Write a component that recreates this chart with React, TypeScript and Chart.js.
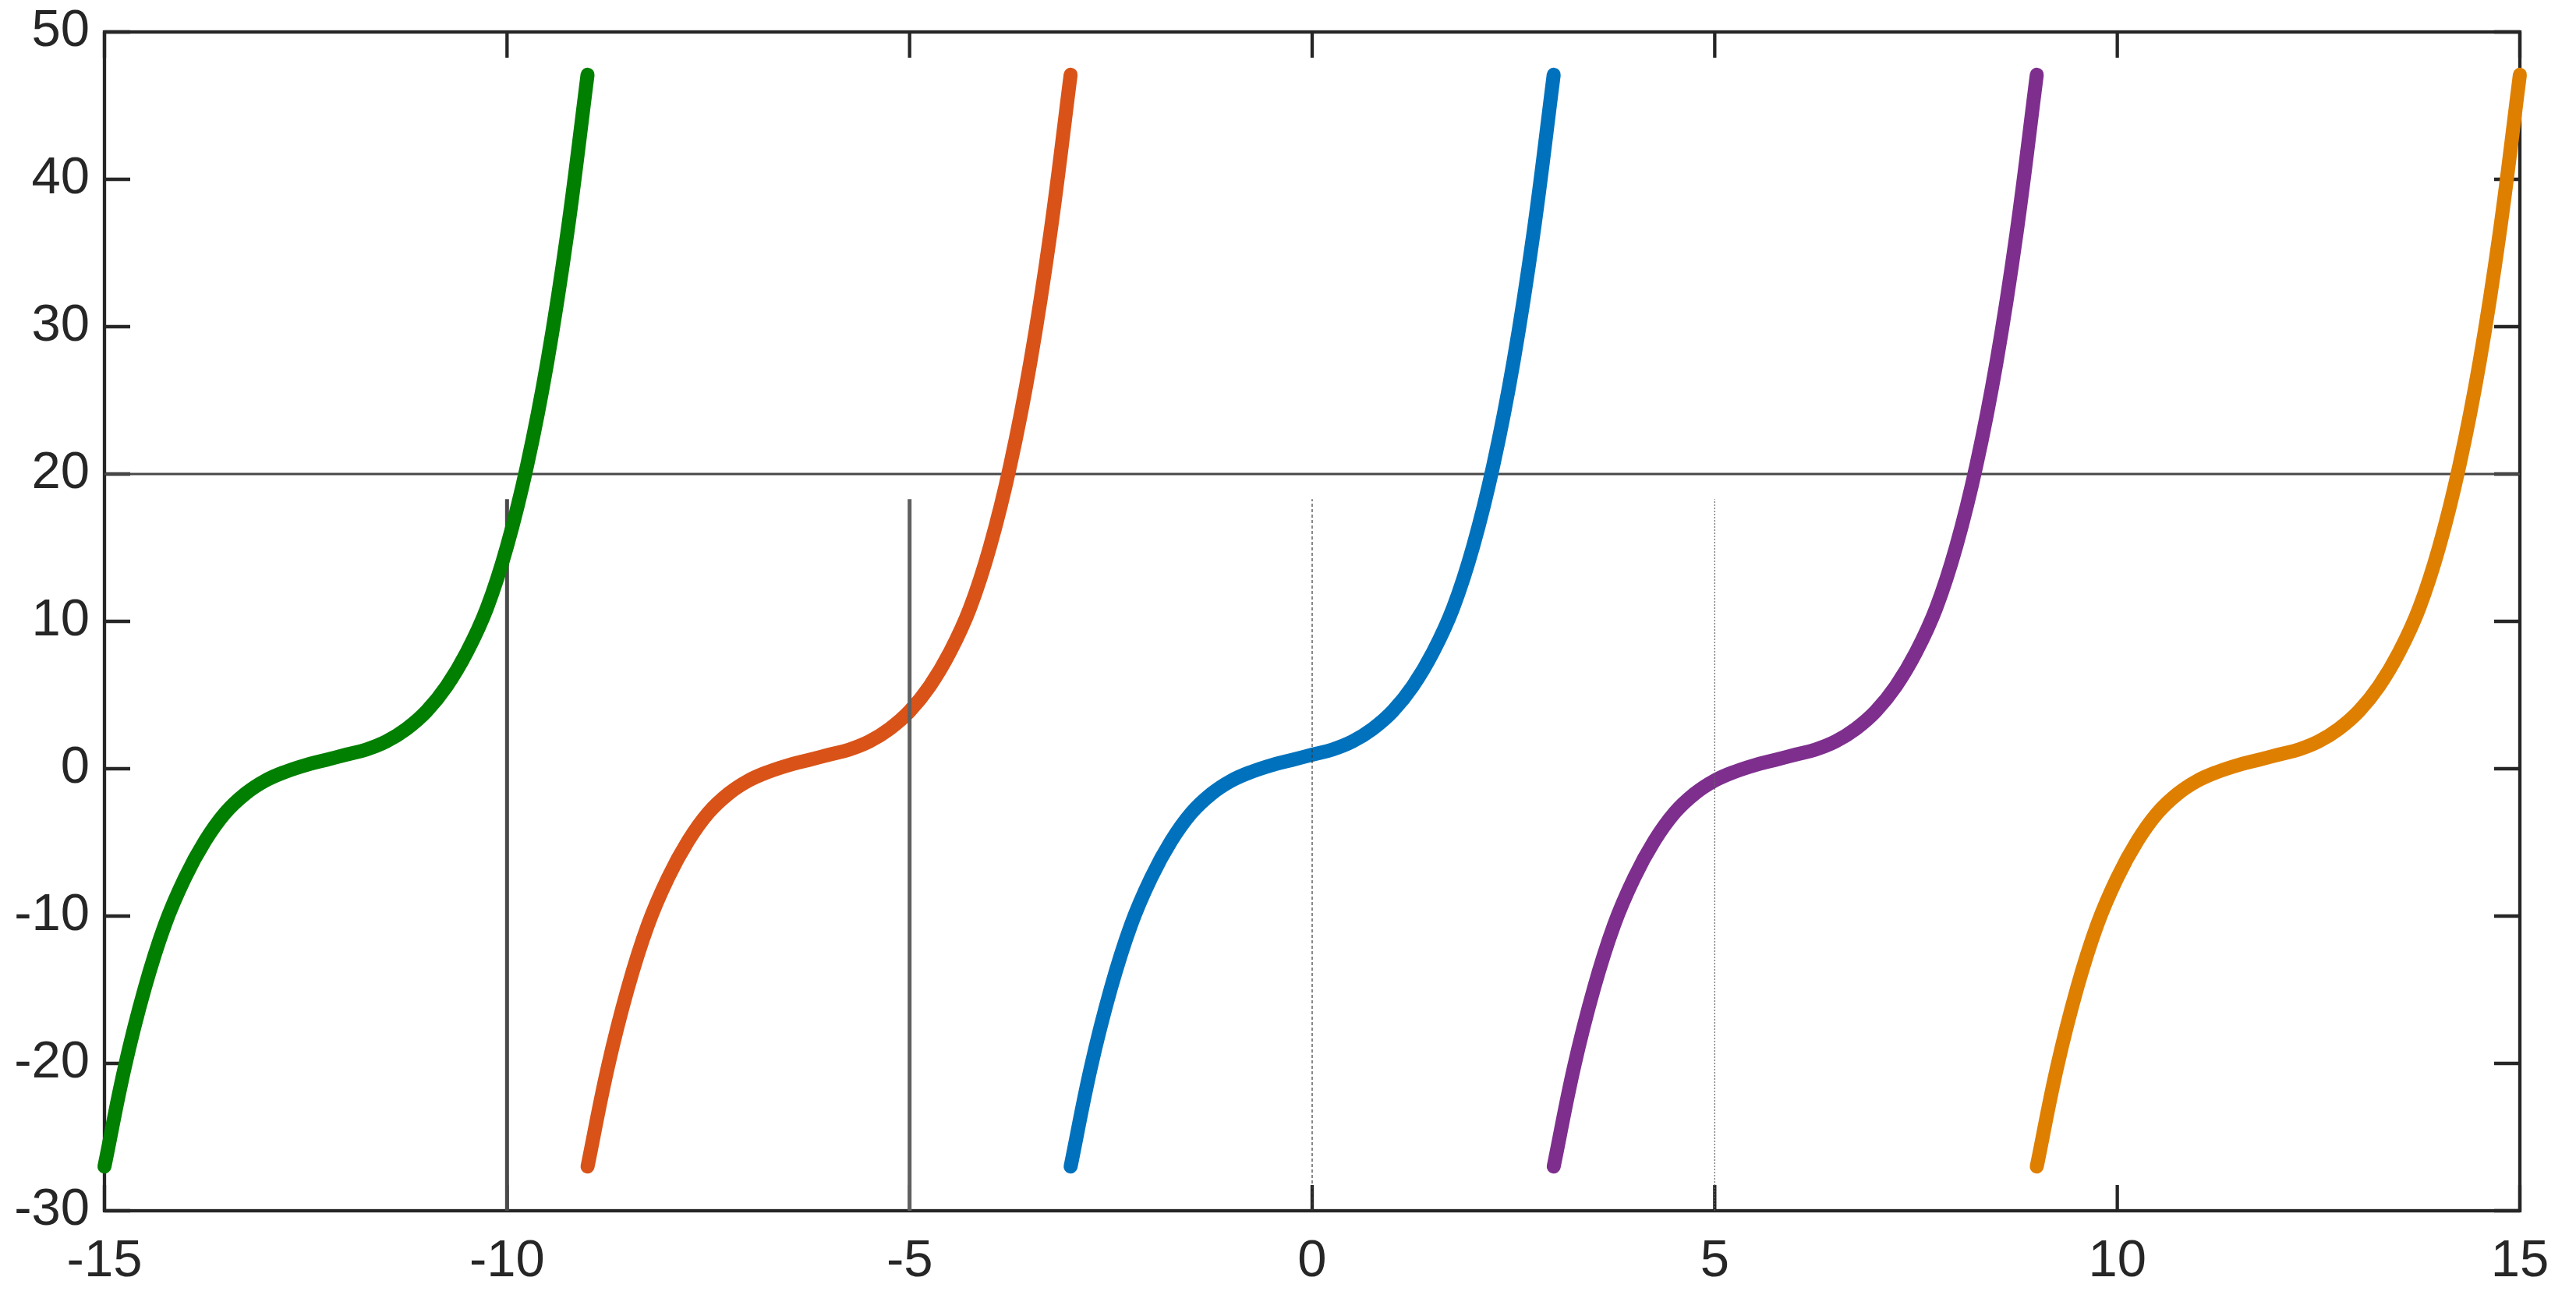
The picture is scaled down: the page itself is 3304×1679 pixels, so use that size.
import React, { useEffect, useRef } from 'react';
import { Chart, registerables } from 'chart.js';

Chart.register(...registerables);

// Shared curve values (y)
const curveY = [-27.0, -20.3, -14.9, -10.6, -7.4, -4.9, -3.0, -1.7, -0.8, -0.2, 0.25, 0.6, 0.95, 1.3, 1.85, 2.7, 3.9, 5.6, 7.9, 10.9, 15.1, 20.6, 27.6, 36.4, 47.1];

const greenX = [-15, -14.75, -14.5, -14.25, -14, -13.75, -13.5, -13.25, -13, -12.75, -12.5, -12.25, -12, -11.75, -11.5, -11.25, -11, -10.75, -10.5, -10.25, -10, -9.75, -9.5, -9.25, -9];
const redX = [-9, -8.75, -8.5, -8.25, -8, -7.75, -7.5, -7.25, -7, -6.75, -6.5, -6.25, -6, -5.75, -5.5, -5.25, -5, -4.75, -4.5, -4.25, -4, -3.75, -3.5, -3.25, -3];
const blueX = [-3, -2.75, -2.5, -2.25, -2, -1.75, -1.5, -1.25, -1, -0.75, -0.5, -0.25, 0, 0.25, 0.5, 0.75, 1, 1.25, 1.5, 1.75, 2, 2.25, 2.5, 2.75, 3];
const purpleX = [3, 3.25, 3.5, 3.75, 4, 4.25, 4.5, 4.75, 5, 5.25, 5.5, 5.75, 6, 6.25, 6.5, 6.75, 7, 7.25, 7.5, 7.75, 8, 8.25, 8.5, 8.75, 9];
const orangeX = [9, 9.25, 9.5, 9.75, 10, 10.25, 10.5, 10.75, 11, 11.25, 11.5, 11.75, 12, 12.25, 12.5, 12.75, 13, 13.25, 13.5, 13.75, 14, 14.25, 14.5, 14.75, 15];

// Reference lines
const vLineX = [-10, -5, 0, 5];
const vLineY = [-30, 18.3];
const hLineY = 20;
const hLineX = [-15, 15];

// Axis ranges / ticks
const xTicks = [-15, -10, -5, 0, 5, 10, 15];
const yTicks = [-30, -20, -10, 0, 10, 20, 30, 40, 50];

const AXIS = '#262626';
const FONT = '"Liberation Sans", Arial, sans-serif';

export default function App() {
  const ref = useRef<HTMLCanvasElement>(null);

  useEffect(() => {
    const canvas = ref.current;
    if (!canvas) return;

    const framePlugin = {
      id: 'frame',
      beforeDatasetsDraw(chart: any) {
        const { ctx, chartArea: a, scales } = chart;
        ctx.save();
        ctx.strokeStyle = AXIS;
        ctx.lineWidth = 4.3;
        ctx.lineCap = 'butt';
        ctx.strokeRect(a.left, a.top, a.right - a.left, a.bottom - a.top);
        const tl = 33;
        ctx.beginPath();
        for (const v of xTicks) {
          const px = scales.x.getPixelForValue(v);
          ctx.moveTo(px, a.bottom);
          ctx.lineTo(px, a.bottom - tl);
          ctx.moveTo(px, a.top);
          ctx.lineTo(px, a.top + tl);
        }
        for (const v of yTicks) {
          const py = scales.y.getPixelForValue(v);
          ctx.moveTo(a.left, py);
          ctx.lineTo(a.left + tl, py);
          ctx.moveTo(a.right, py);
          ctx.lineTo(a.right - tl, py);
        }
        ctx.stroke();
        ctx.restore();
      },
    };

    const curve = (label: string, xs: number[], color: string, order: number) => ({
      type: 'line',
      label,
      data: xs.map((x, i) => ({ x, y: curveY[i] })),
      borderColor: color,
      backgroundColor: color,
      borderWidth: 18,
      borderCapStyle: 'round',
      borderJoinStyle: 'round',
      pointRadius: 0,
      tension: 0.4,
      clip: false,
      order,
    });

    const vline = (x: number, color: string, width: number, dash: number[], order: number) => ({
      type: 'line',
      label: 'v' + x,
      data: [{ x, y: vLineY[0] }, { x, y: vLineY[1] }],
      borderColor: color,
      borderWidth: width,
      borderDash: dash,
      pointRadius: 0,
      order,
    });

    const datasets: any[] = [
      {
        type: 'line',
        label: 'h20',
        data: [{ x: hLineX[0], y: hLineY }, { x: hLineX[1], y: hLineY }],
        borderColor: '#484848',
        borderWidth: 2.8,
        pointRadius: 0,
        order: 100,
      },
      vline(vLineX[0], '#4a4a4a', 5, [], 99),
      curve('green', greenX, '#007F00', 98),
      curve('red', redX, '#D95319', 97),
      vline(vLineX[1], '#606060', 5, [], 96),
      curve('blue', blueX, '#0072BD', 95),
      vline(vLineX[2], '#3a3a3a', 1.2, [4, 3], 94),
      curve('purple', purpleX, '#7E2F8E', 93),
      vline(vLineX[3], '#666666', 1.2, [2, 2], 92),
      curve('orange', orangeX, '#DF7F00', 91),
    ];

    const zeroPad = (s: any) => {
      s.paddingTop = 0;
      s.paddingBottom = 0;
      s.paddingLeft = 0;
      s.paddingRight = 0;
    };

    const chart = new Chart(canvas, {
      type: 'line',
      data: { datasets },
      plugins: [framePlugin],
      options: {
        responsive: false,
        animation: false,
        devicePixelRatio: 1,
        layout: { padding: { top: 41, right: 72, bottom: 0, left: 0 } },
        plugins: { legend: { display: false }, tooltip: { enabled: false } },
        scales: {
          x: {
            type: 'linear',
            min: xTicks[0],
            max: xTicks[xTicks.length - 1],
            afterBuildTicks: (s: any) => { s.ticks = xTicks.map((v) => ({ value: v })); },
            afterFit: (s: any) => { s.height = 126; zeroPad(s); },
            grid: { display: false, drawTicks: false },
            border: { display: false },
            ticks: {
              color: AXIS,
              font: { family: FONT, size: 67 },
              padding: 25,
              maxRotation: 0,
              autoSkip: false,
              callback: (v: any) => String(v),
            },
          },
          y: {
            type: 'linear',
            min: yTicks[0],
            max: yTicks[yTicks.length - 1],
            afterBuildTicks: (s: any) => { s.ticks = yTicks.map((v) => ({ value: v })); },
            afterFit: (s: any) => { s.width = 134; zeroPad(s); },
            grid: { display: false, drawTicks: false },
            border: { display: false },
            ticks: {
              color: AXIS,
              font: { family: FONT, size: 67 },
              padding: 19,
              autoSkip: false,
              callback: (v: any) => String(v),
            },
          },
        },
      } as any,
    } as any);

    return () => chart.destroy();
  }, []);

  return (
    <div style={{ position: 'absolute', left: 0, top: 0, width: 3304, height: 1679, background: '#ffffff' }}>
      <canvas ref={ref} width={3304} height={1679} style={{ display: 'block', width: 3304, height: 1679 }} />
    </div>
  );
}
